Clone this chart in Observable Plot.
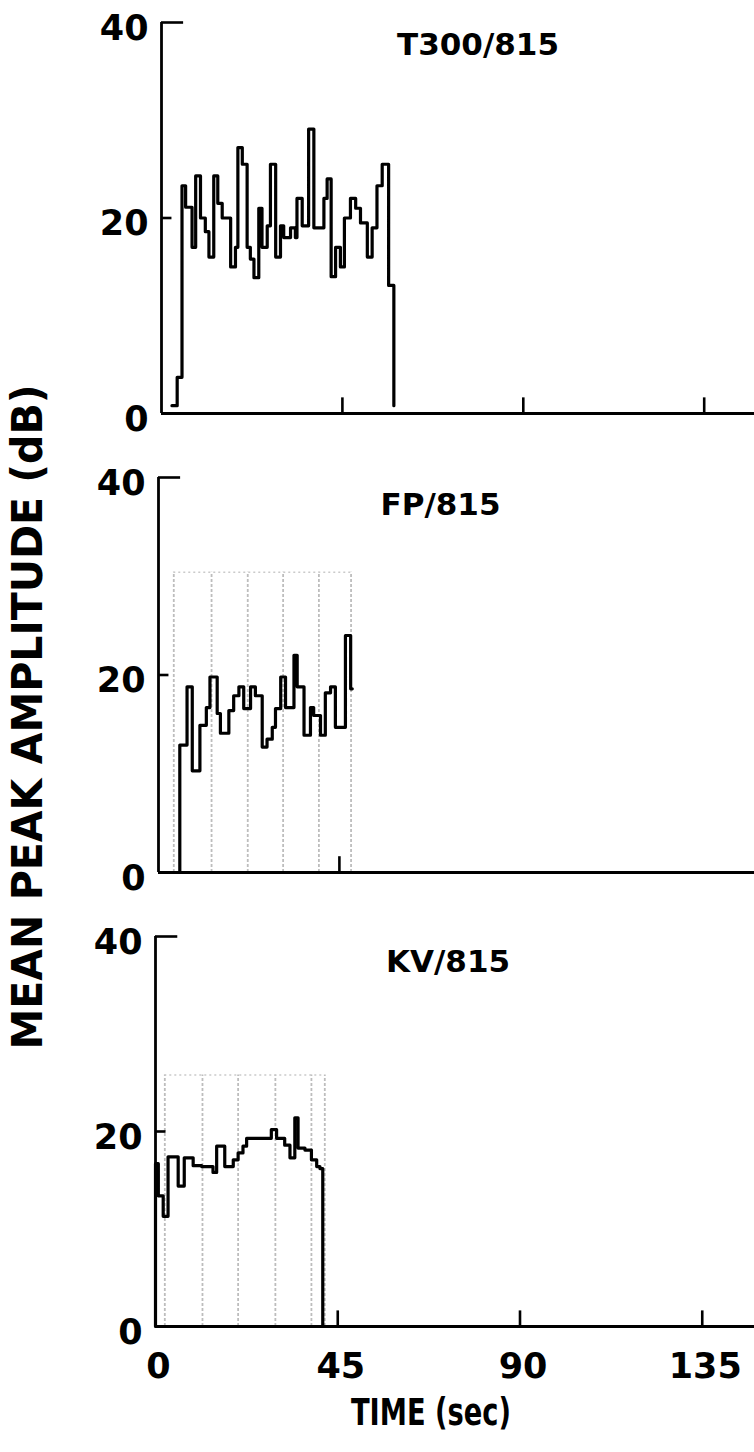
<!DOCTYPE html>
<html><head><meta charset="utf-8">
<script src="https://cdn.jsdelivr.net/npm/d3@7"></script>
<script src="https://cdn.jsdelivr.net/npm/@observablehq/plot@0.6"></script>
<style>
body{margin:0;background:#fff;}
#root{position:relative;width:754px;height:1452px;overflow:hidden;background:#fff;font-family:"DejaVu Sans",sans-serif;}
#root > svg{position:absolute;left:0;}
</style></head><body><div id="root"></div>
<script>
// ---- data ----
const panelTitles = ["T300/815", "FP/815", "KV/815"];

const t300Time  = [2.6, 3.9, 5.1, 6.0, 7.6, 8.5, 9.7, 10.9, 11.8, 13.0, 14.0, 15.1, 17.2, 18.4, 19.0, 20.1, 21.3, 22.1, 23.0, 24.2, 25.0, 26.3, 27.1, 28.4, 29.6, 30.4, 32.1, 33.3, 33.7, 35.0, 36.6, 37.9, 40.4, 41.2, 42.2, 43.3, 44.5, 45.5, 47.0, 48.3, 49.5, 51.2, 52.4, 53.6, 54.9, 56.5, 57.8];
const t300Level = [0.8, 3.7, 23.3, 21.1, 17.0, 24.3, 20.0, 18.6, 16.0, 24.3, 21.5, 20.0, 15.0, 17.0, 27.2, 25.5, 17.0, 15.8, 13.9, 21.0, 17.0, 19.2, 25.5, 16.0, 19.2, 18.0, 19.0, 18.0, 22.0, 19.2, 29.1, 19.0, 22.0, 24.0, 14.0, 17.0, 15.0, 20.0, 22.0, 21.0, 19.5, 16.0, 19.0, 23.3, 25.5, 13.1, 0.8];

const fpTime  = [5.3, 5.3, 7.1, 8.4, 10.3, 11.9, 12.8, 14.6, 15.4, 17.5, 18.7, 20.0, 21.2, 22.9, 24.1, 25.8, 27.0, 28.3, 29.1, 30.4, 31.6, 33.7, 34.5, 36.2, 37.8, 38.6, 40.3, 41.5, 42.8, 44.0, 46.5, 47.8, 48.2];
const fpLevel = [0, 12.9, 18.8, 10.3, 14.9, 16.7, 19.8, 16.1, 14.1, 16.4, 17.9, 18.8, 16.6, 18.8, 17.9, 12.7, 13.5, 14.7, 16.6, 19.8, 16.7, 22.0, 18.8, 13.9, 16.7, 15.9, 13.9, 18.2, 18.8, 14.7, 24.0, 18.6, 18.6];

const kvTime  = [0, 0, 0.7, 1.9, 3.1, 5.6, 7.1, 9.3, 11.4, 14.2, 15.1, 17.1, 19.2, 20.4, 21.6, 22.5, 28.6, 29.9, 31.9, 33.2, 34.4, 35.2, 36.9, 38.5, 39.8, 40.6, 41.3];
const kvLevel = [0, 16.7, 13.4, 11.3, 17.4, 14.4, 17.3, 16.5, 16.4, 15.8, 18.5, 16.4, 17.1, 17.8, 18.5, 19.3, 20.2, 19.3, 18.6, 17.3, 21.4, 18.3, 18.1, 17.1, 16.4, 16.2, 0];

const yTicks = [0, 20, 40];
const xTickLabels = [0, 45, 90, 135];
const t300AxisTicks = [45, 90, 135];
const fpAxisTicks = [45];
const kvAxisTicks = [45, 90, 135];

// faint grid of the underlying record sheet
const fpGridTimes = [3.8, 13.2, 22.2, 31.0, 39.9, 47.9];
const fpGridTop = 30.4;
const kvGridTimes = [2.3, 11.6, 20.4, 29.6, 38.5, 41.8];
const kvGridTop = 25.8;

const yAxisTitle = "MEAN PEAK AMPLITUDE (dB)";
const xAxisTitle = "TIME (sec)";

// ---- layout ----
const W = 754;
const panels = [
  {title: panelTitles[0], time: t300Time, level: t300Level, ticks: t300AxisTicks, grid: null, gridTop: 0,
   top: 0, marginLeft: 161, marginTop: 22, inner: 391, marginBottom: 24, kx: 4.02, titleDx: 20, titleDy: 10, xLabels: false},
  {title: panelTitles[1], time: fpTime, level: fpLevel, ticks: fpAxisTicks, grid: fpGridTimes, gridTop: fpGridTop,
   top: 440, marginLeft: 158, marginTop: 37, inner: 395, marginBottom: 22, kx: 4.02, titleDx: -16, titleDy: 15, xLabels: false},
  {title: panelTitles[2], time: kvTime, level: kvLevel, ticks: kvAxisTicks, grid: kvGridTimes, gridTop: kvGridTop,
   top: 900, marginLeft: 155, marginTop: 36, inner: 390, marginBottom: 60, kx: 4.05, titleDx: -7, titleDy: 13, xLabels: true}
];

const root = document.getElementById("root");

for (const p of panels) {
  const data = p.time.map((t, i) => ({t, v: p.level[i]}));
  const marks = [];
  if (p.grid) {
    marks.push(Plot.ruleX(p.grid, {y1: 0, y2: p.gridTop, stroke: "#bdbdbd", strokeWidth: 1.8, strokeDasharray: "3,2"}));
    marks.push(Plot.ruleY([p.gridTop], {x1: p.grid[0], x2: p.grid[p.grid.length - 1], stroke: "#cacaca", strokeWidth: 1.5, strokeDasharray: "2,3"}));
  }
  marks.push(Plot.ruleY([0], {stroke: "#000", strokeWidth: 2.8}));
  marks.push(Plot.ruleX([0], {y1: 0, y2: 40, stroke: "#000", strokeWidth: 2.8}));
  marks.push(Plot.ruleY([40], {x1: 0, x2: 5.5, stroke: "#000", strokeWidth: 2.6}));
  marks.push(Plot.ruleY([20], {x1: 0, x2: 2.6, stroke: "#000", strokeWidth: 2.6}));
  marks.push(Plot.ruleX(p.ticks, {y1: 0, y2: 1.6, stroke: "#000", strokeWidth: 2.6}));
  marks.push(Plot.line(data, {x: "t", y: "v", curve: "step-after", stroke: "#000", strokeWidth: 3.2}));
  marks.push(Plot.axisY(yTicks, {tickSize: 0, tickPadding: 13, fontSize: 35, fontWeight: "bold", dy: 6, label: null, tickFormat: d => String(d)}));
  if (p.xLabels) {
    marks.push(Plot.axisX(xTickLabels, {tickSize: 0, tickPadding: 27, fontSize: 35, fontWeight: "bold", dx: 3, label: null, tickFormat: d => String(d)}));
  }
  marks.push(Plot.text([p.title], {text: d => d, frameAnchor: "top", lineAnchor: "top", dx: p.titleDx, dy: p.titleDy, fontSize: 31, fontWeight: "bold", fill: "#000"}));

  const chart = Plot.plot({
    width: W,
    height: p.marginTop + p.inner + p.marginBottom,
    marginLeft: p.marginLeft,
    marginRight: 0,
    marginTop: p.marginTop,
    marginBottom: p.marginBottom,
    x: {domain: [0, (W - p.marginLeft) / p.kx], axis: p.xLabels ? undefined : null},
    y: {domain: [0, 40]},
    style: {fontFamily: "DejaVu Sans", background: "transparent", overflow: "visible", color: "#000"},
    marks
  });
  chart.style.position = "absolute";
  chart.style.top = p.top + "px";
  chart.style.left = "0px";
  root.appendChild(chart);
}

// axis titles (outside the plots)
const overlay = d3.create("svg")
  .attr("width", W).attr("height", 1452)
  .style("position", "absolute").style("top", "0px").style("left", "0px")
  .style("pointer-events", "none");
overlay.append("text")
  .attr("transform", "translate(42,717) rotate(-90)")
  .attr("text-anchor", "middle")
  .attr("font-family", "DejaVu Sans").attr("font-weight", "bold").attr("font-size", 42)
  .attr("textLength", 665).attr("lengthAdjust", "spacingAndGlyphs")
  .text(yAxisTitle);
overlay.append("text")
  .attr("x", 431).attr("y", 1425)
  .attr("text-anchor", "middle")
  .attr("font-family", "DejaVu Sans").attr("font-weight", "bold").attr("font-size", 37)
  .attr("textLength", 160).attr("lengthAdjust", "spacingAndGlyphs")
  .text(xAxisTitle);
root.appendChild(overlay.node());
</script>
</body></html>
